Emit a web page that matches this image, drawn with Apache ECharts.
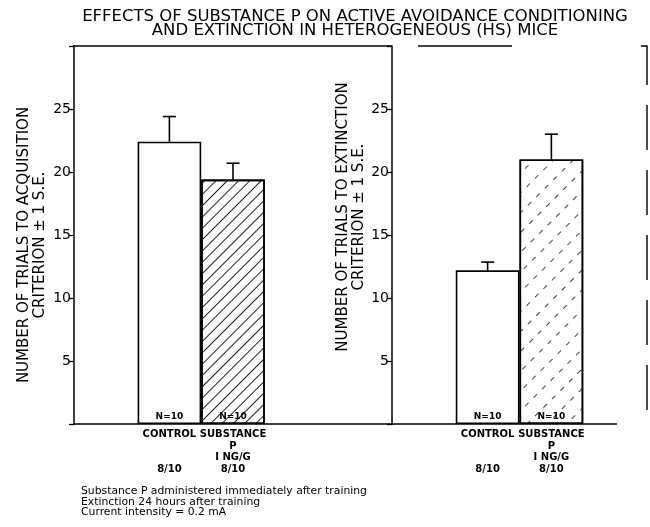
<!DOCTYPE html>
<html>
<head>
<meta charset="utf-8">
<script src="https://cdn.jsdelivr.net/npm/echarts@6/dist/echarts.min.js"></script>
<style>html,body{margin:0;padding:0;background:#fff}#c{width:650px;height:527px}</style>
</head>
<body>
<div id="c"></div>
<script>
// ---- data ----
const categories = ['CONTROL', 'SUBSTANCE'];
const categorySubLabels = ['', 'P\nI NG/G'];
const ratioLabels = ['8/10', '8/10'];
const nLabels = ['N=10', 'N=10'];
const acquisitionMeans = [22.4, 19.4];
const acquisitionSE = [2.0, 1.3];
const extinctionMeans = [12.2, 21.0];
const extinctionSE = [0.65, 2.0];
const yMin = 0, yMax = 30, yInterval = 5;
const titleLines = ['EFFECTS OF SUBSTANCE P ON ACTIVE AVOIDANCE CONDITIONING', 'AND EXTINCTION IN HETEROGENEOUS (HS) MICE'];
const footnoteLines = ['Substance P administered immediately after training', 'Extinction 24 hours after training', 'Current intensity = 0.2 mA'];
const leftAxisName = 'NUMBER OF TRIALS TO ACQUISITION\nCRITERION \u00B1 1 S.E.';
const rightAxisName = 'NUMBER OF TRIALS TO EXTINCTION\nCRITERION \u00B1 1 S.E.';

const FONT = 'DejaVu Sans';
const chart = echarts.init(document.getElementById('c'), null, {renderer: 'canvas'});

const labelMap = {};
categories.forEach((c, i) => {
  const sub = categorySubLabels[i] ? categorySubLabels[i] : '\n';
  labelMap[c] = c + '\n' + sub + '\n' + ratioLabels[i];
});

const hatchSolid = {symbol: 'rect', symbolSize: 1, color: '#222', dashArrayX: [[1, 0]], dashArrayY: [1, 7], rotation: -Math.PI / 4};
const hatchDashed = {symbol: 'rect', symbolSize: 1, color: '#444', dashArrayX: [[5, 7]], dashArrayY: [1, 13], rotation: -Math.PI / 4};

function barData(means, decal) {
  return means.map((v, i) => ({
    value: [categories[i], v],
    itemStyle: i === 1 ? {color: '#fff', decal: decal} : {color: '#fff'}
  }));
}
function errData(means, se) {
  return means.map((v, i) => [categories[i], v, v + se[i]]);
}
function renderErr(params, api) {
  const base = api.coord([api.value(0), api.value(1)]);
  const top = api.coord([api.value(0), api.value(2)]);
  const half = 6.5;
  return {
    type: 'group',
    children: [
      {type: 'line', shape: {x1: base[0], y1: base[1], x2: top[0], y2: top[1]}, style: {stroke: '#000', lineWidth: 1.6}},
      {type: 'line', shape: {x1: top[0] - half, y1: top[1], x2: top[0] + half, y2: top[1]}, style: {stroke: '#000', lineWidth: 1.6}}
    ]
  };
}

const leftCats = [' ', ...categories, '  ', '   '];
const rightCats = [' ', ...categories, '  '];

function xAxisCfg(gridIndex, data, showLine) {
  return {
    type: 'category', gridIndex, data,
    axisLine: {show: showLine, lineStyle: {color: '#000', width: 1.5}},
    axisTick: {show: false},
    axisLabel: {
      interval: 0, margin: 5, color: '#000', fontFamily: FONT, fontSize: 10, fontWeight: 'bold', lineHeight: 11.5,
      verticalAlign: 'top',
      formatter: v => labelMap[v] || ''
    }
  };
}
function yAxisCfg(gridIndex, name, nameGap, padding) {
  return {
    type: 'value', gridIndex, min: yMin, max: yMax, interval: yInterval,
    name, nameLocation: 'middle', nameGap, nameRotate: 90,
    nameTextStyle: {color: '#000', fontFamily: FONT, fontSize: 15, lineHeight: 16, padding},
    axisLine: {show: true, lineStyle: {color: '#000', width: 1.5}},
    axisTick: {show: true, length: 5, lineStyle: {color: '#000', width: 1.3}},
    splitLine: {show: false},
    axisLabel: {color: '#000', fontFamily: FONT, fontSize: 14, margin: 3,
      formatter: v => (v === yMin || v === yMax) ? '' : String(v)}
  };
}

const barLabel = {
  show: true, position: 'insideBottom', distance: 3, color: '#000', fontFamily: FONT, fontSize: 9, fontWeight: 'bold',
  formatter: p => nLabels[p.dataIndex]
};

const option = {
  animation: false,
  backgroundColor: '#fff',
  title: [
    {text: titleLines.join('\n'), left: 350, top: 5, textAlign: 'center',
      textStyle: {color: '#000', fontFamily: FONT, fontSize: 16.5, fontWeight: 'normal', lineHeight: 14}},
    {text: footnoteLines.join('\n'), left: 76, top: 481,
      textStyle: {color: '#000', fontFamily: FONT, fontSize: 10.8, fontWeight: 'normal', lineHeight: 10.5}}
  ],
  grid: [
    {left: 74, width: 318, top: 46, bottom: 103},
    {left: 392, width: 255, top: 46, bottom: 103}
  ],
  xAxis: [xAxisCfg(0, leftCats, true), xAxisCfg(1, rightCats, false)],
  yAxis: [yAxisCfg(0, leftAxisName, 26, [0, 20, 0, 0]), yAxisCfg(1, rightAxisName, 23, [0, 0, 0, 36])],
  series: [
    {type: 'bar', xAxisIndex: 0, yAxisIndex: 0, barWidth: '100%', data: barData(acquisitionMeans, hatchSolid),
      itemStyle: {borderColor: '#000', borderWidth: 1.6}, label: barLabel},
    {type: 'custom', xAxisIndex: 0, yAxisIndex: 0, renderItem: renderErr, data: errData(acquisitionMeans, acquisitionSE), z: 3},
    {type: 'bar', xAxisIndex: 1, yAxisIndex: 1, barWidth: '100%', data: barData(extinctionMeans, hatchDashed),
      itemStyle: {borderColor: '#000', borderWidth: 1.6}, label: barLabel},
    {type: 'custom', xAxisIndex: 1, yAxisIndex: 1, renderItem: renderErr, data: errData(extinctionMeans, extinctionSE), z: 3}
  ],
  graphic: [
    {type: 'line', shape: {x1: 73, y1: 46, x2: 392, y2: 46}, style: {stroke: '#000', lineWidth: 1.5}},
    {type: 'line', shape: {x1: 418, y1: 46, x2: 512, y2: 46}, style: {stroke: '#000', lineWidth: 1.5}},
    {type: 'line', shape: {x1: 392, y1: 424, x2: 617, y2: 424}, style: {stroke: '#000', lineWidth: 1.5}},
    {type: 'polyline', shape: {points: [[641, 46], [647, 46], [647, 424], [641, 424]]},
      style: {stroke: '#000', lineWidth: 1.4, fill: null, lineDash: [45, 20]}}
  ]
};
chart.setOption(option);
</script>
</body>
</html>
